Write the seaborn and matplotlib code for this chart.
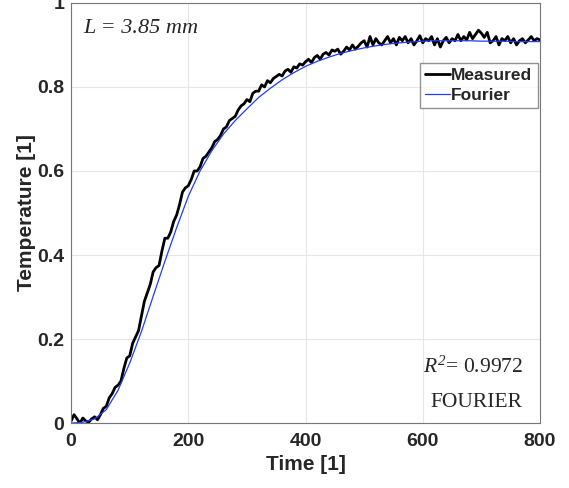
import numpy as np
import pandas as pd
import matplotlib
matplotlib.use("Agg")
import matplotlib.pyplot as plt
import seaborn as sns

# Fourier fit
fourier_x = [0, 20, 40, 60, 80, 100, 120, 140, 160, 180, 200, 220, 240, 260, 280, 300,
             320, 340, 360, 380, 400, 420, 440, 460, 480, 500, 520, 540, 560, 580, 600,
             620, 640, 660, 680, 700, 720, 740, 760, 780, 800]
fourier_y = [0.0, 0.002, 0.01, 0.032, 0.078, 0.143, 0.218, 0.302, 0.385, 0.465, 0.54,
             0.6, 0.648, 0.688, 0.72, 0.748, 0.775, 0.797, 0.817, 0.834, 0.849, 0.861,
             0.871, 0.88, 0.887, 0.893, 0.898, 0.902, 0.905, 0.907, 0.909, 0.91, 0.91,
             0.91, 0.91, 0.909, 0.909, 0.909, 0.908, 0.908, 0.908]

measured_x = list(range(0, 805, 5))
measured_y = [0.005, 0.02, 0.01, 0.0, 0.012, 0.005, 0.002, 0.01, 0.015, 0.008, 0.02,
              0.035, 0.04, 0.06, 0.07, 0.085, 0.09, 0.1, 0.13, 0.155, 0.16, 0.19, 0.205,
              0.22, 0.255, 0.29, 0.31, 0.33, 0.36, 0.37, 0.375, 0.41, 0.44, 0.44, 0.455,
              0.48, 0.495, 0.52, 0.55, 0.56, 0.565, 0.58, 0.6, 0.6, 0.61, 0.63, 0.635,
              0.645, 0.655, 0.67, 0.675, 0.685, 0.7, 0.705, 0.72, 0.725, 0.73, 0.745,
              0.755, 0.76, 0.77, 0.765, 0.785, 0.79, 0.79, 0.805, 0.8, 0.815, 0.81, 0.82,
              0.825, 0.83, 0.826, 0.838, 0.842, 0.835, 0.848, 0.845, 0.855, 0.852, 0.86,
              0.866, 0.858, 0.87, 0.875, 0.866, 0.878, 0.882, 0.876, 0.888, 0.885, 0.89,
              0.878, 0.885, 0.895, 0.888, 0.9, 0.89, 0.897, 0.905, 0.91, 0.895, 0.92,
              0.9, 0.915, 0.905, 0.9, 0.91, 0.92, 0.905, 0.915, 0.9, 0.918, 0.91, 0.92,
              0.905, 0.915, 0.9, 0.91, 0.922, 0.905, 0.915, 0.91, 0.92, 0.9, 0.915, 0.895,
              0.91, 0.918, 0.905, 0.915, 0.91, 0.925, 0.91, 0.92, 0.912, 0.93, 0.915,
              0.925, 0.935, 0.928, 0.918, 0.93, 0.905, 0.91, 0.92, 0.9, 0.915, 0.91, 0.92,
              0.905, 0.915, 0.9, 0.91, 0.915, 0.905, 0.912, 0.92, 0.91, 0.915, 0.912]

xticks = [0, 200, 400, 600, 800]
yticks = [0, 0.2, 0.4, 0.6, 0.8, 1]
ytick_labels = ["0", "0.2", "0.4", "0.6", "0.8", "1"]

sns.set_style("white")
plt.rcParams['font.family'] = ['Liberation Sans', 'DejaVu Sans']
plt.rcParams['mathtext.fontset'] = 'custom'
plt.rcParams['mathtext.rm'] = 'Liberation Serif:italic'
plt.rcParams['mathtext.it'] = 'Liberation Serif:italic'

fig = plt.figure(figsize=(5.69, 4.88), dpi=100)
ax = fig.add_axes([0.125, 0.133, 0.824, 0.861])

dm = pd.DataFrame({"x": measured_x, "y": measured_y})
df = pd.DataFrame({"x": fourier_x, "y": fourier_y})
sns.lineplot(data=dm, x="x", y="y", ax=ax, color="black", lw=2.0, label="Measured")
sns.lineplot(data=df, x="x", y="y", ax=ax, color="#1f3cff", lw=0.9, label="Fourier")

ax.set_xlim(0, 800)
ax.set_ylim(0, 1)
ax.set_xticks(xticks)
ax.set_xticklabels([str(t) for t in xticks])
ax.set_yticks(yticks)
ax.set_yticklabels(ytick_labels)
ax.grid(True, color="#e6e6e6", lw=0.8)
ax.tick_params(direction="in", length=4, color="#555555", labelsize=14)
ax.tick_params(axis="x", pad=7)
ax.tick_params(axis="y", pad=5)
for lab in ax.get_xticklabels() + ax.get_yticklabels():
    lab.set_fontweight("bold")
    lab.set_color("#262626")
for s in ax.spines.values():
    s.set_color("#777777")
    s.set_linewidth(0.8)

ax.set_xlabel("Time [1]", fontsize=15, fontweight="bold", color="#262626", labelpad=4)
ax.set_ylabel("Temperature [1]", fontsize=15, fontweight="bold", color="#262626", labelpad=1)

leg = ax.legend(loc="upper right", bbox_to_anchor=(0.995, 0.857), fontsize=12.5,
                frameon=True, fancybox=False, edgecolor="#777777",
                borderpad=0.3, handlelength=1.4, handletextpad=0.1, labelspacing=0.25,
                borderaxespad=0.0)
for t in leg.get_texts():
    t.set_fontweight("bold")

ax.text(0.025, 0.938, "L = 3.85 mm", transform=ax.transAxes, fontsize=16,
        family="Liberation Serif", style="italic", va="center", ha="left")
ax.text(0.964, 0.133, r"$R^2$= 0.9972", transform=ax.transAxes, fontsize=15.5,
        family="Liberation Serif", va="center", ha="right")
ax.text(0.962, 0.048, "FOURIER", transform=ax.transAxes, fontsize=15.5,
        family="Liberation Serif", va="center", ha="right")

fig.savefig("out.png", dpi=100)
